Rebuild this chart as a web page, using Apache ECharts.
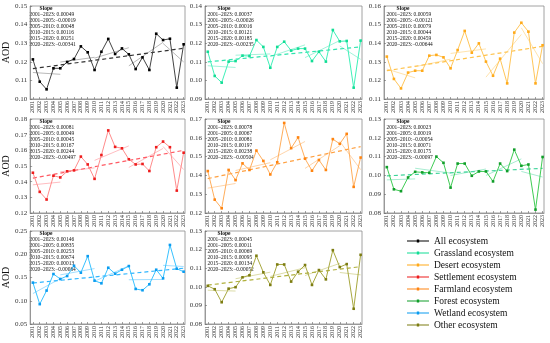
<!DOCTYPE html>
<html><head><meta charset="utf-8">
<script src="https://cdn.jsdelivr.net/npm/echarts@6/dist/echarts.min.js"></script>
<style>html,body{margin:0;padding:0;background:#fff}#c{width:550px;height:343px}</style>
</head><body><div id="c"></div>
<script>
const years = [2001,2002,2003,2004,2005,2006,2007,2008,2009,2010,2011,2012,2013,2014,2015,2016,2017,2018,2019,2020,2021,2022,2023];
const names = ['All ecosystem','Grassland ecosystem','Desert ecosystem','Settlement ecosystem','Farmland ecosystem','Forest ecosystem','Wetland ecosystem','Other ecosystem'];
const allEco     = [0.1213,0.1093,0.1052,0.1165,0.1165,0.1199,0.1215,0.1283,0.1251,0.1156,0.1254,0.1323,0.1242,0.1272,0.1240,0.1161,0.1224,0.1156,0.1351,0.1317,0.1324,0.1061,0.1294];
const grassland  = [0.1154,0.1024,0.0988,0.1101,0.1104,0.1133,0.1131,0.1217,0.1180,0.1068,0.1180,0.1208,0.1160,0.1171,0.1171,0.1104,0.1154,0.1101,0.1271,0.1210,0.1212,0.0961,0.1214];
const desert     = [0.1328,0.1208,0.1157,0.1242,0.1252,0.1252,0.1333,0.1337,0.1324,0.1265,0.1363,0.1466,0.1349,0.1399,0.1301,0.1225,0.1317,0.1184,0.1457,0.1510,0.1462,0.1184,0.1389];
const settlement = [0.1457,0.1335,0.1286,0.1438,0.1427,0.1466,0.1472,0.1560,0.1510,0.1418,0.1570,0.1727,0.1622,0.1613,0.1543,0.1510,0.1513,0.1468,0.1620,0.1656,0.1620,0.1343,0.1585];
const farmland   = [0.1423,0.1271,0.1225,0.1429,0.1375,0.1464,0.1429,0.1532,0.1477,0.1405,0.1470,0.1679,0.1545,0.1602,0.1489,0.1425,0.1482,0.1429,0.1593,0.1568,0.1621,0.1339,0.1495];
const forest     = [0.1044,0.0926,0.0916,0.0989,0.1019,0.1016,0.1014,0.1100,0.1067,0.0935,0.1063,0.1063,0.0998,0.1021,0.1021,0.0968,0.1063,0.1023,0.1137,0.1051,0.1058,0.0818,0.1098];
const wetland    = [0.1390,0.0927,0.1219,0.1575,0.1468,0.1532,0.1753,0.1603,0.1959,0.1432,0.1375,0.1710,0.1582,0.1667,0.1746,0.1254,0.1226,0.1354,0.1667,0.1482,0.2200,0.1689,0.1625];
const other      = [0.1005,0.0987,0.0917,0.0990,0.0998,0.1051,0.1062,0.1167,0.1078,0.1010,0.1120,0.1120,0.1028,0.1081,0.1117,0.1010,0.1090,0.1040,0.1197,0.1106,0.1122,0.0882,0.1172];
const periods = [[2001,2023],[2001,2005],[2005,2010],[2010,2015],[2015,2020],[2020,2023]];
const periodLabels = ['2001\u20132023:','2001\u20132005:','2005\u20132010:','2010\u20132015:','2015\u20132020:','2020\u20132023:'];
const slopeAll        = ['0.00049','-0.00019','0.00048','0.00116','0.00251','-0.00341'];
const slopeGrassland  = ['0.00037','-0.00026','0.00016','0.00121','0.00185','-0.00235'];
const slopeDesert     = ['0.00059','-0.00121','0.00079','0.00044','0.00459','-0.00644'];
const slopeSettlement = ['0.00081','0.00049','0.00045','0.00167','0.00244','-0.00497'];
const slopeFarmland   = ['0.00078','0.00067','0.00081','0.00197','0.00238','-0.00504'];
const slopeForest     = ['0.00023','0.00019','-0.00054','0.00071','0.00175','-0.00097'];
const slopeWetland    = ['0.00146','0.00835','0.00253','0.00674','0.00013','-0.00084'];
const slopeOther      = ['0.00045','0.00011','0.00069','0.00095','0.00134','-0.00052'];
const yMin = [0.10,0.09,0.11,0.12,0.12,0.08,0.05,0.08];
const yMax = [0.15,0.14,0.16,0.18,0.17,0.13,0.25,0.13];
const yStep = [0.01,0.01,0.01,0.01,0.01,0.01,0.05,0.01];

const seriesVals = [allEco,grassland,desert,settlement,farmland,forest,wetland,other];
const slopeTexts = [slopeAll,slopeGrassland,slopeDesert,slopeSettlement,slopeFarmland,slopeForest,slopeWetland,slopeOther];
const markerCol = ['#000000','#12dd95','#ffaa1a','#ee1c1c','#ff8410','#119e2a','#0a9cf0','#7d7d12'];
const lineCol   = ['#444444','#3ff0b8','#ffc65a','#ff8c8c','#ffae5c','#40cc55','#38c2ff','#a8a840'];
const dashCol   = ['#333333','#30e4ae','#ffc24a','#ff5a64','#ffa040','#3ed49a','#30b6ff','#b0b03c'];
const segCol    = ['rgba(0,0,0,0.28)','rgba(48,228,174,0.45)','rgba(255,194,74,0.45)','rgba(255,90,100,0.4)','rgba(255,160,64,0.45)','rgba(62,212,154,0.45)','rgba(48,182,255,0.45)','rgba(176,176,60,0.45)'];

const colLeft = [27,205,384], colW = [158,157,160];
const rowTop = [6,119,231], rowH = [93,94,93];
const FONT = '"Liberation Serif","Times New Roman",serif';

function fit(x0,x1,vals){
  const xs=[],ys=[];
  years.forEach((y,i)=>{ if(y>=x0&&y<=x1){xs.push(y);ys.push(vals[i]);} });
  const n=xs.length, mx=xs.reduce((a,b)=>a+b,0)/n, my=ys.reduce((a,b)=>a+b,0)/n;
  let sxy=0,sxx=0; for(let i=0;i<n;i++){sxy+=(xs[i]-mx)*(ys[i]-my);sxx+=(xs[i]-mx)**2;}
  const b=sxy/sxx, a=my-b*mx;
  return [[x0,a+b*x0],[x1,a+b*x1]];
}

const grids=[],xAxes=[],yAxes=[],series=[],graphics=[];
for(let p=0;p<8;p++){
  const r=Math.floor(p/3), c=p%3;
  grids.push({left:colLeft[c],top:rowTop[r],width:colW[c],height:rowH[r],show:true,borderColor:'#8a8a8a',borderWidth:0.8,containLabel:false});
  xAxes.push({type:'value',gridIndex:p,min:2000.6,max:2023.2,
    axisLine:{show:true,lineStyle:{color:'#8a8a8a',width:0.8}},
    axisTick:{show:true,inside:true,length:2,customValues:years,lineStyle:{color:'#666',width:0.6}},
    axisLabel:{show:true,customValues:years,rotate:90,fontSize:6,margin:2,color:'#333',fontFamily:FONT,formatter:v=>String(Math.round(v))},
    splitLine:{show:false}});
  yAxes.push({type:'value',gridIndex:p,min:yMin[p],max:yMax[p],interval:yStep[p],
    name:c===0?'AOD':'',nameLocation:'middle',nameGap:15,nameTextStyle:{fontSize:10,fontFamily:FONT,color:'#111'},
    axisLine:{show:true,lineStyle:{color:'#8a8a8a',width:0.8}},
    axisTick:{show:true,inside:true,length:2,lineStyle:{color:'#666',width:0.6}},
    axisLabel:{fontSize:7,margin:3,color:'#333',fontFamily:FONT,formatter:v=>v.toFixed(2)},
    splitLine:{show:false}});
  const vals=seriesVals[p];
  for(let k=1;k<periods.length;k++){
    series.push({type:'line',xAxisIndex:p,yAxisIndex:p,silent:true,symbol:'none',z:1,
      data:fit(periods[k][0],periods[k][1],vals),lineStyle:{color:segCol[p],width:1}});
  }
  series.push({type:'line',xAxisIndex:p,yAxisIndex:p,silent:true,symbol:'none',z:2,
    data:fit(periods[0][0],periods[0][1],vals),lineStyle:{color:dashCol[p],width:1.2,type:[4,3]}});
  series.push({name:names[p],type:'line',xAxisIndex:p,yAxisIndex:p,symbol:'rect',symbolSize:2.6,showSymbol:true,z:3,
    data:years.map((y,i)=>[y,vals[i]]),lineStyle:{color:lineCol[p],width:1},itemStyle:{color:markerCol[p]}});
  const gl=colLeft[c], gt=rowTop[r];
  graphics.push({type:'text',x:gl+19,y:gt+2.6,style:{text:'Slope',font:'bold 5.5px '+FONT,fill:'#111',textAlign:'center',textVerticalAlign:'middle'}});
  for(let k=0;k<6;k++){
    const s=slopeTexts[p][k];
    graphics.push({type:'text',x:gl+2.5,y:gt+8.7+6*k,style:{text:periodLabels[k]+(s[0]==='-'?'\u2212'+s.slice(1):' '+s),font:'5.4px '+FONT,fill:'#111',textAlign:'left',textVerticalAlign:'middle'}});
  }
}

const chart=echarts.init(document.getElementById('c'),null,{renderer:'canvas'});
chart.setOption({
  animation:false,
  backgroundColor:'#fff',
  grid:grids,xAxis:xAxes,yAxis:yAxes,series:series,
  legend:{data:names,orient:'vertical',left:407,top:235,height:108,itemWidth:22,itemHeight:8,itemGap:0,padding:0,
    icon:'path://M0,3.6 L22,3.6 L22,4.4 L0,4.4 Z M9.8,2.6 L12.2,2.6 L12.2,5.4 L9.8,5.4 Z',
    textStyle:{fontSize:9.5,lineHeight:12,height:12,fontFamily:FONT,color:'#111'}},
  graphic:graphics
});
</script></body></html>
